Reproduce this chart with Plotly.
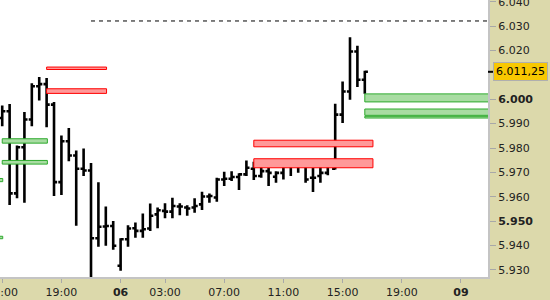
import plotly.graph_objects as go

# ---- data (30-minute bars, index-based time axis) ----
bar_idx = list(range(50))
opens = [5.9923, 5.9951, 5.9614, 5.9803, 5.9917, 6.0053, 6.0062, 5.9978, 5.9660, 5.9828,
         5.9769, 5.9715, 5.9708, 5.9430, 5.9478, 5.9480, 5.9317, 5.9426, 5.9471, 5.9460,
         5.9470, 5.9528, 5.9542, 5.9539, 5.9560, 5.9556, 5.9556, 5.9569, 5.9601, 5.9597,
         5.9671, 5.9674, 5.9681, 5.9692, 5.9715, 5.9685, 5.9705, 5.9682, 5.9698, 5.9730,
         5.9733, 5.9733, 5.9678, 5.9685, 5.9698, 5.9715, 5.9937, 6.0032, 6.0196, 6.0080]
highs = [5.9974, 5.9980, 5.9810, 5.9948, 6.0066, 6.0091, 6.0087, 5.9989, 5.9851, 5.9882,
         5.9790, 5.9798, 5.9739, 5.9660, 5.9560, 5.9501, 5.9430, 5.9483, 5.9494, 5.9531,
         5.9572, 5.9556, 5.9573, 5.9596, 5.9573, 5.9565, 5.9594, 5.9621, 5.9613, 5.9678,
         5.9703, 5.9705, 5.9696, 5.9749, 5.9744, 5.9744, 5.9719, 5.9705, 5.9739, 5.9742,
         5.9744, 5.9739, 5.9719, 5.9726, 5.9749, 5.9982, 6.0073, 6.0254, 6.0219, 6.0117]
lows = [5.9889, 5.9566, 5.9594, 5.9576, 5.9889, 5.9995, 5.9885, 5.9603, 5.9607, 5.9746,
        5.9481, 5.9685, 5.9260, 5.9395, 5.9399, 5.9383, 5.9297, 5.9395, 5.9432, 5.9432,
        5.9460, 5.9471, 5.9512, 5.9512, 5.9524, 5.9522, 5.9535, 5.9546, 5.9576, 5.9580,
        5.9644, 5.9665, 5.9628, 5.9685, 5.9669, 5.9678, 5.9644, 5.9658, 5.9671, 5.9685,
        5.9699, 5.9658, 5.9620, 5.9658, 5.9688, 5.9712, 5.9903, 5.9998, 6.0050, 6.0023]
closes = [5.9951, 5.9614, 5.9803, 5.9917, 6.0053, 6.0062, 5.9978, 5.9660, 5.9828, 5.9769,
          5.9715, 5.9708, 5.9430, 5.9477, 5.9480, 5.9399, 5.9426, 5.9470, 5.9460, 5.9467,
          5.9522, 5.9545, 5.9539, 5.9562, 5.9560, 5.9552, 5.9562, 5.9601, 5.9603, 5.9671,
          5.9674, 5.9681, 5.9692, 5.9719, 5.9685, 5.9705, 5.9698, 5.9698, 5.9726, 5.9730,
          5.9733, 5.9671, 5.9678, 5.9698, 5.9733, 5.9937, 6.0032, 6.0196, 6.0080, 6.01125]

x_tick_idx = [0, 8, 16, 22, 30, 38, 46, 54, 62]
x_tick_text = ["15:00", "19:00", "<b>06</b>", "03:00", "07:00", "11:00", "15:00", "19:00", "<b>09</b>"]

# 6.010 is hidden behind the last-price box in the reference
y_tick_vals = [5.930, 5.940, 5.950, 5.960, 5.970, 5.980, 5.990, 6.000, 6.020, 6.030, 6.040]
y_bold = [5.950, 6.000]

# supply/demand zones
zone_x0 = [6, 6, 34, 34, 0, 0, -1, -1, 49, 49, 49]
zone_x1 = [14.1, 14.1, 50.1, 50.1, 6.1, 6.1, 0.07, 0.07, 70, 70, 70]
zone_lo = [6.0122, 6.0024, 5.9805, 5.9719, 5.9820, 5.9734, 5.9662, 5.9428, 5.9989, 5.9934, 5.9923]
zone_hi = [6.0132, 6.0043, 5.9832, 5.9756, 5.9838, 5.9749, 5.9675, 5.9438, 6.0022, 5.9960, 5.9930]
zone_kind = ["sell", "sell", "sell", "sell", "buy", "buy", "buy", "buy", "buy", "buy", "buy"]

dashed_level = 6.0321
dashed_start = 12
last_price_text = "6.011,25"

# ---- figure ----
fig = go.Figure()
fig.add_trace(go.Ohlc(
    x=bar_idx, open=opens, high=highs, low=lows, close=closes,
    increasing=dict(line=dict(color="black", width=2.6)),
    decreasing=dict(line=dict(color="black", width=2.6)),
    tickwidth=0.42, hoverinfo="skip", showlegend=False,
))

styles = {
    "sell": dict(fill="#FF9999", line="#FF0000"),
    "buy": dict(fill="#A8DCA2", line="#2EAA2E"),
}
for x0, x1, lo, hi, k in zip(zone_x0, zone_x1, zone_lo, zone_hi, zone_kind):
    fig.add_shape(type="rect", xref="x", yref="y", x0=x0, x1=x1, y0=lo, y1=hi,
                  fillcolor=styles[k]["fill"], line=dict(color=styles[k]["line"], width=1),
                  layer="above")

x_max = 65.65
fig.add_shape(type="line", xref="x", yref="y", x0=dashed_start, x1=x_max, y0=dashed_level, y1=dashed_level,
              line=dict(color="black", width=1, dash="4px,4px"))

# last price marker tick on axis
fig.add_shape(type="line", xref="paper", yref="y", x0=1.0, x1=1.012, y0=closes[-1], y1=closes[-1],
              line=dict(color="black", width=2))

fig.add_annotation(xref="paper", yref="y", x=1.0, y=closes[-1], xanchor="left", yanchor="middle",
                   xshift=5, text=last_price_text, showarrow=False,
                   font=dict(family="DejaVu Sans", size=11, color="black"),
                   bgcolor="#F8C800", bordercolor="#AFAFAF", borderwidth=1, borderpad=2)

y_tick_text = []
for v in y_tick_vals:
    s = f"{v:.3f}"
    if any(abs(v - b) < 1e-9 for b in y_bold):
        s = f"<b>{s}</b>"
    y_tick_text.append(s)

fig.update_layout(
    width=550, height=300,
    margin=dict(l=0, r=62, t=0, b=23, autoexpand=False),
    paper_bgcolor="#DCD9AB",
    plot_bgcolor="white",
    font=dict(family="DejaVu Sans", size=11, color="#222222"),
    showlegend=False,
    xaxis=dict(
        range=[-0.3, x_max], rangeslider=dict(visible=False),
        tickmode="array", tickvals=x_tick_idx, ticktext=x_tick_text,
        ticks="outside", ticklen=4, tickcolor="#A8A8A8", tickwidth=1,
        ticklabeloverflow="allow", automargin=False,
        showgrid=False, zeroline=False,
        showline=True, linecolor="#C4C4C4", linewidth=2, mirror=False,
        fixedrange=True,
    ),
    yaxis=dict(
        side="right", range=[5.9271, 6.0407],
        tickmode="array", tickvals=y_tick_vals, ticktext=y_tick_text,
        ticks="outside", ticklen=6, tickcolor="#A8A8A8", tickwidth=1,
        ticklabeloverflow="allow", automargin=False,
        showgrid=False, zeroline=False,
        showline=True, linecolor="#C4C4C4", linewidth=2, mirror=False,
        fixedrange=True,
    ),
)

fig.write_html("out.html", config={"displayModeBar": False})
